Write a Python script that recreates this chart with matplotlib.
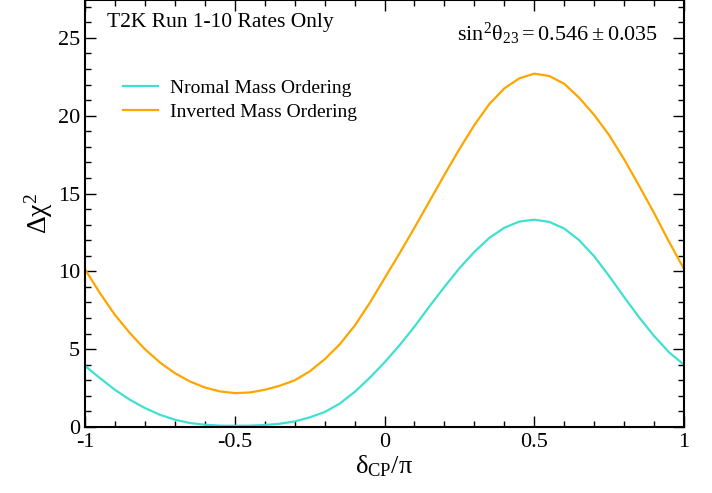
import matplotlib
matplotlib.use("Agg")
import matplotlib.pyplot as plt
from matplotlib.ticker import MultipleLocator, FuncFormatter

# delta_CP / pi grid and Delta chi^2
dcp = [-1.00, -0.95, -0.90, -0.85, -0.80, -0.75, -0.70, -0.65, -0.60, -0.55,
       -0.50, -0.45, -0.40, -0.35, -0.30, -0.25, -0.20, -0.15, -0.10, -0.05,
       0.00, 0.05, 0.10, 0.15, 0.20, 0.25, 0.30, 0.35, 0.40, 0.45,
       0.50, 0.55, 0.60, 0.65, 0.70, 0.75, 0.80, 0.85, 0.90, 0.95, 1.00]
chi2_normal = [3.93, 3.14, 2.39, 1.75, 1.22, 0.79, 0.47, 0.26, 0.15, 0.09,
               0.08, 0.09, 0.13, 0.21, 0.36, 0.62, 0.96, 1.5, 2.25, 3.15,
               4.15, 5.25, 6.45, 7.75, 9.0, 10.2, 11.25, 12.15, 12.8, 13.2,
               13.32, 13.18, 12.75, 12.0, 10.97, 9.7, 8.35, 7.05, 5.85, 4.8, 4.0]
chi2_inverted = [10.13, 8.6, 7.2, 6.03, 5.0, 4.15, 3.46, 2.93, 2.54, 2.29,
                 2.18, 2.22, 2.39, 2.65, 3.0, 3.57, 4.35, 5.3, 6.5, 7.95,
                 9.55, 11.15, 12.8, 14.5, 16.2, 17.85, 19.4, 20.75, 21.75, 22.4,
                 22.7, 22.55, 22.05, 21.15, 20.05, 18.75, 17.2, 15.5, 13.75, 11.9,
                 10.15]
labels = ["Nromal Mass Ordering", "Inverted Mass Ordering"]

plt.rcParams["font.family"] = ["Liberation Serif", "DejaVu Serif"]
plt.rcParams["mathtext.fontset"] = "custom"
plt.rcParams["mathtext.rm"] = "Liberation Serif"
plt.rcParams["mathtext.it"] = "Liberation Serif"
plt.rcParams["mathtext.bf"] = "Liberation Serif"

fig = plt.figure(figsize=(7.12, 4.93), dpi=100)
ax = fig.add_axes([0.1194, 0.1338, 0.8413, 0.8652])

ax.plot(dcp, chi2_normal, color="#40E0D0", lw=1.6, label=labels[0])
ax.plot(dcp, chi2_inverted, color="#FFA500", lw=1.6, label=labels[1])

ax.set_xlim(-1, 1)
ax.set_ylim(0, 27.4)
ax.xaxis.set_major_locator(MultipleLocator(0.5))
ax.xaxis.set_minor_locator(MultipleLocator(0.1))
ax.yaxis.set_major_locator(MultipleLocator(5))
ax.yaxis.set_minor_locator(MultipleLocator(1))
ax.xaxis.set_major_formatter(FuncFormatter(lambda v, p: f"{v:g}"))
ax.tick_params(which="both", direction="in", top=True, right=True,
               labelsize=16, width=1.0)
ax.tick_params(which="major", length=8)
ax.tick_params(which="minor", length=4)
ax.tick_params(axis="x", pad=4)
for s in ax.spines.values():
    s.set_linewidth(1.5)

ax.set_xlabel(r"$\mathrm{\delta_{CP}/\pi}$", fontsize=19, labelpad=1)
ax.set_ylabel(r"$\mathrm{\Delta\chi^2}$", fontsize=20, labelpad=2)

ax.text(0.037, 0.949, "T2K Run 1-10 Rates Only", transform=ax.transAxes,
        fontsize=15.5, va="center", ha="left")
ax.text(0.957, 0.906, r"$\mathrm{sin^2\theta_{23}} = 0.546 \pm 0.035$",
        transform=ax.transAxes, fontsize=16, va="baseline", ha="right")

ax.legend(loc="upper left", bbox_to_anchor=(0.035, 0.857), frameon=False,
          fontsize=14, handlelength=1.8, handletextpad=0.57, labelspacing=0.33)

fig.savefig("out.png", dpi=100)
